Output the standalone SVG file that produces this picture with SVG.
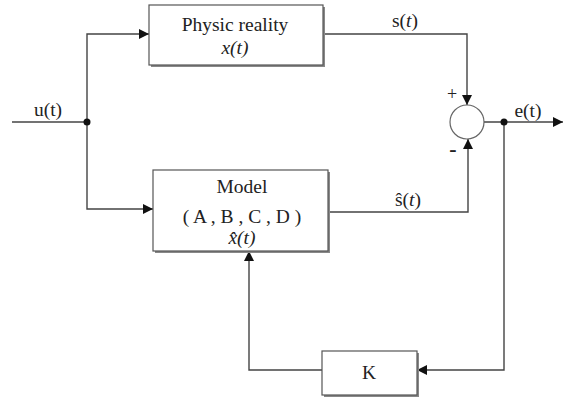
<svg xmlns="http://www.w3.org/2000/svg" width="563" height="398" viewBox="0 0 563 398">
<style>
.box{fill:#fff;stroke:#555;stroke-width:1.2}
.sh{fill:#888}
.ln{fill:none;stroke:#444;stroke-width:1.4}
text{font-family:"Liberation Serif","Times New Roman",serif;font-size:19.5px;fill:#222;text-anchor:middle}
.it{font-style:italic}
</style>
<defs>
<marker id="ar" viewBox="0 0 10 10" refX="10" refY="5" markerWidth="10" markerHeight="10" markerUnits="userSpaceOnUse" orient="auto">
<path d="M0,0 L10,5 L0,10 z" fill="#111"/>
</marker>
</defs>
<rect width="563" height="398" fill="#fff"/>
<g id="connectors">
<path class="ln" d="M12,122 H87"/>
<path class="ln" d="M87,122 V34 H149" marker-end="url(#ar)"/>
<path class="ln" d="M87,122 V209 H153" marker-end="url(#ar)"/>
<path class="ln" d="M323,34 H467 V105" marker-end="url(#ar)"/>
<path class="ln" d="M329,212 H468 V139" marker-end="url(#ar)"/>
<path class="ln" d="M484,122 H563" marker-end="url(#ar)"/>
<path class="ln" d="M504,122 V370 H417" marker-end="url(#ar)"/>
<path class="ln" d="M322,370 H249 V251" marker-end="url(#ar)"/>
<circle cx="87" cy="122" r="3.5" fill="#111"/>
<circle cx="504" cy="122" r="3.5" fill="#111"/>
</g>
<g id="physic">
<rect class="sh" x="151" y="7" width="174" height="60"/>
<rect class="box" x="149" y="5" width="174" height="60"/>
<text x="235" y="31">Physic reality</text>
<text x="235" y="54" class="it">x(t)</text>
</g>
<g id="model">
<rect class="sh" x="155" y="172" width="175" height="81"/>
<rect class="box" x="153" y="170" width="175" height="81"/>
<text x="242" y="193">Model</text>
<text x="242" y="223">( A , B , C , D )</text>
<text x="242" y="244" class="it">x̂(t)</text>
</g>
<g id="sum">
<circle cx="467" cy="122" r="17" fill="#fff" stroke="#666" stroke-width="1.2"/>
</g>
<g id="k">
<rect class="sh" x="324" y="353" width="95" height="44"/>
<rect class="box" x="322" y="351" width="95" height="44"/>
<text x="369" y="379">K</text>
</g>
<g id="labels">
<text x="48" y="116">u(t)</text>
<text x="405" y="27">s(<tspan class="it">t</tspan>)</text>
<text x="452" y="100" style="font-size:18px">+</text>
<text x="453" y="156" style="font-size:22px;font-weight:bold">-</text>
<text x="528" y="117">e(t)</text>
<text x="408" y="206">ŝ(<tspan class="it">t</tspan>)</text>
</g>
</svg>
